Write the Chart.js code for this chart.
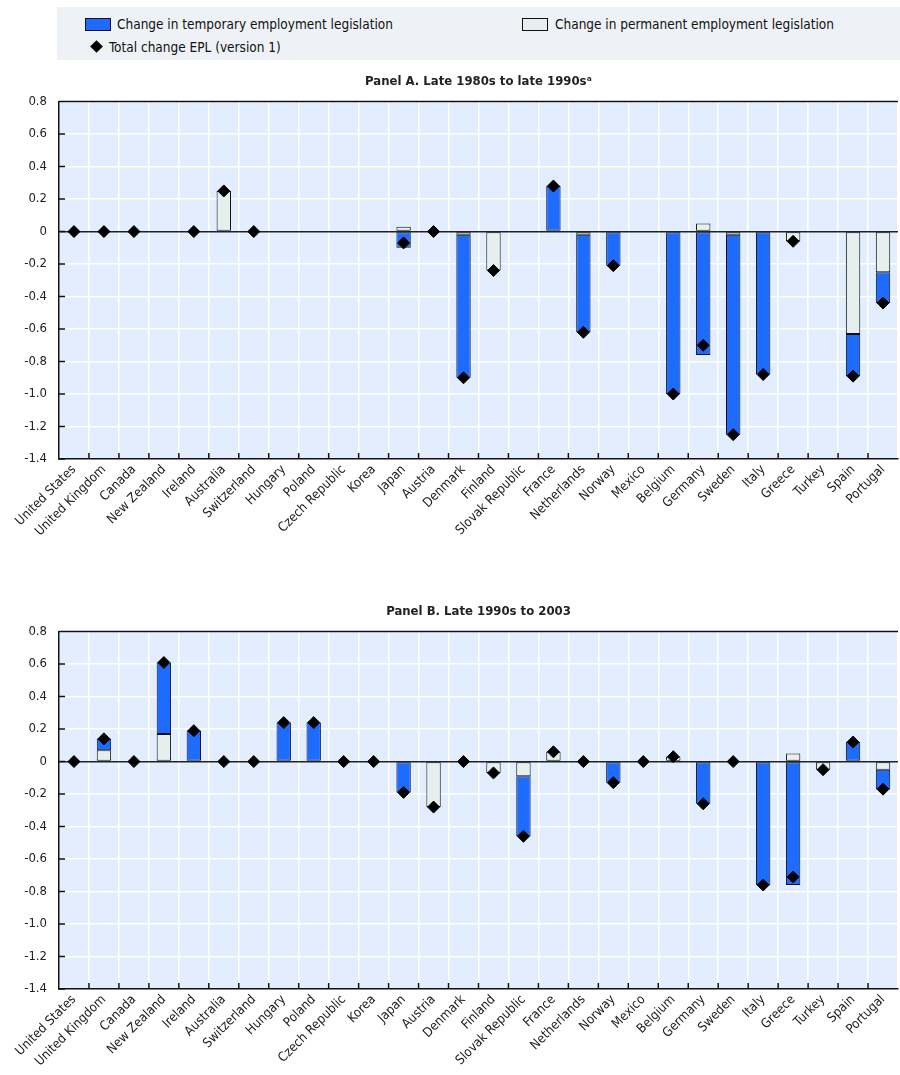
<!DOCTYPE html>
<html>
<head>
<meta charset="utf-8">
<script src="https://cdn.jsdelivr.net/npm/chart.js@4.4.1/dist/chart.umd.min.js"></script>
<style>
    body {
        margin: 0;
        width: 900px;
        height: 1075px;
        overflow: hidden;
        background: #fff;
        position: relative;
        font-family: 'Liberation Sans Narrow', 'DejaVu Sans Condensed', 'Arial Narrow', sans-serif;
        color: #111;
    }
    .legend {
        position: absolute;
        left: 57px;
        top: 7px;
        width: 843px;
        height: 53px;
        background: #eef1f5;
    }
    .legend-item {
        position: absolute;
        font-size: 13.5px;
        line-height: 16px;
        white-space: nowrap;
    }
    .swatch {
        position: absolute;
        width: 26px;
        height: 13px;
        box-sizing: border-box;
        border: 1px solid #111;
    }
    .diamond {
        position: absolute;
        width: 9px;
        height: 9px;
        background: #000;
        transform: rotate(45deg);
    }
    .panel {
        position: absolute;
        left: 0;
        width: 905px;
        height: 499px;
    }
</style>
</head>
<body>

<div class="legend">
    <div class="swatch" style="left:28px; top:11px; background:#1e6cff;"></div>
    <div class="legend-item" style="left:60px; top:9px;">Change in temporary employment legislation</div>
    <div class="swatch" style="left:465px; top:11px; background:#e6efee;"></div>
    <div class="legend-item" style="left:498px; top:9px;">Change in permanent employment legislation</div>
    <div class="diamond" style="left:35px; top:35px;"></div>
    <div class="legend-item" style="left:52px; top:32px;">Total change EPL (version 1)</div>
</div>

<div class="panel" style="top:70px;"><canvas id="panelA"></canvas></div>
<div class="panel" style="top:600px;"><canvas id="panelB"></canvas></div>

<script>
// Countries, same order in both panels
const countries = ['United States', 'United Kingdom', 'Canada', 'New Zealand', 'Ireland', 'Australia',
    'Switzerland', 'Hungary', 'Poland', 'Czech Republic', 'Korea', 'Japan', 'Austria', 'Denmark',
    'Finland', 'Slovak Republic', 'France', 'Netherlands', 'Norway', 'Mexico', 'Belgium', 'Germany',
    'Sweden', 'Italy', 'Greece', 'Turkey', 'Spain', 'Portugal'];

// Panel A. Late 1980s to late 1990s
const tempA = [null, null, null, null, null, null, null, null, null, null, null, -0.10, null, -0.88,
    null, null, 0.28, -0.60, -0.21, null, -1.00, -0.76, -1.23, -0.88, null, null, -0.26, -0.19];
const permA = [null, null, null, null, null, 0.25, null, null, null, null, null, 0.03, null, -0.02,
    -0.24, null, null, -0.02, null, null, null, 0.05, -0.02, null, -0.06, null, -0.63, -0.25];
const totalA = [0, 0, 0, null, 0, 0.25, 0, null, null, null, null, -0.07, 0, -0.90,
    -0.24, null, 0.28, -0.62, -0.21, null, -1.00, -0.70, -1.25, -0.88, -0.06, null, -0.89, -0.44];

// Panel B. Late 1990s to 2003
const tempB = [null, 0.07, null, 0.44, 0.19, null, null, 0.24, 0.24, null, null, -0.19, null, null,
    null, -0.37, null, null, -0.13, null, null, -0.26, null, -0.76, -0.76, null, 0.12, -0.12];
const permB = [null, 0.07, null, 0.17, null, null, null, null, null, null, null, null, -0.28, null,
    -0.07, -0.09, 0.06, null, null, null, 0.03, null, null, null, 0.05, -0.05, null, -0.05];
const totalB = [0, 0.14, 0, 0.61, 0.19, 0, 0, 0.24, 0.24, 0, 0, -0.19, -0.28, 0,
    -0.07, -0.46, 0.06, 0, -0.13, 0, 0.03, -0.26, 0, -0.76, -0.71, -0.05, 0.12, -0.17];

const yMin = -1.4;
const yMax = 0.8;
const yStep = 0.2;

const BLUE = '#1e6cff';
const PALE = '#e6efee';
const FONT = "'Liberation Sans Narrow', 'DejaVu Sans Condensed', 'Arial Narrow', sans-serif";

Chart.defaults.font.family = FONT;
Chart.defaults.color = '#222';

// Plot background, top border and the little inside tick marks
const panelFrame = {
    id: 'panelFrame',
    beforeDraw(chart) {
        const { ctx, chartArea: a } = chart;
        ctx.save();
        ctx.fillStyle = '#e2eefd';
        ctx.fillRect(a.left, a.top, a.right - a.left, a.bottom - a.top);
        ctx.restore();
    },
    beforeDatasetsDraw(chart) {
        const { ctx, chartArea: a, scales } = chart;
        ctx.save();
        ctx.strokeStyle = '#111';
        ctx.lineWidth = 1.5;
        ctx.beginPath();
        ctx.moveTo(a.left, a.top);
        ctx.lineTo(a.right, a.top);
        // y ticks pointing into the plot
        scales.y.ticks.forEach(t => {
            const y = scales.y.getPixelForValue(t.value);
            ctx.moveTo(a.left, y);
            ctx.lineTo(a.left + 6, y);
        });
        // x ticks at category boundaries
        const n = chart.data.labels.length;
        for (let i = 1; i < n; i++) {
            const x = (scales.x.getPixelForValue(i - 1) + scales.x.getPixelForValue(i)) / 2;
            ctx.moveTo(x, a.bottom);
            ctx.lineTo(x, a.bottom - 6);
        }
        ctx.stroke();
        ctx.restore();
    }
};

function buildPanel(canvasId, title, temp, perm, total) {
    const ctx = document.getElementById(canvasId);
    return new Chart(ctx, {
        type: 'bar',
        data: {
            labels: countries,
            datasets: [
                {
                    label: 'Change in permanent employment legislation',
                    data: perm,
                    backgroundColor: PALE,
                    borderColor: '#111',
                    borderWidth: 1,
                    borderSkipped: false,
                    categoryPercentage: 1,
                    barPercentage: 0.48,
                    order: 1
                },
                {
                    label: 'Change in temporary employment legislation',
                    data: temp,
                    backgroundColor: BLUE,
                    borderColor: '#111',
                    borderWidth: 1,
                    borderSkipped: false,
                    categoryPercentage: 1,
                    barPercentage: 0.48,
                    order: 1
                },
                {
                    type: 'line',
                    label: 'Total change EPL (version 1)',
                    data: total,
                    showLine: false,
                    pointStyle: 'rectRot',
                    pointRadius: 6,
                    pointBackgroundColor: '#000',
                    pointBorderColor: '#000',
                    pointBorderWidth: 1,
                    order: 0
                }
            ]
        },
        options: {
            responsive: true,
            maintainAspectRatio: false,
            animation: false,
            layout: {
                padding: { left: 0, right: 0, top: 0, bottom: 0 }
            },
            scales: {
                x: {
                    stacked: true,
                    grid: {
                        color: '#ffffff',
                        lineWidth: 1.5,
                        offset: true,
                        drawTicks: false
                    },
                    border: { color: '#111', width: 1.5 },
                    ticks: {
                        autoSkip: false,
                        minRotation: 45,
                        maxRotation: 45,
                        padding: 3,
                        font: { size: 13 },
                        color: '#222'
                    },
                    afterFit(scale) {
                        scale.height = 110;
                    }
                },
                y: {
                    stacked: true,
                    min: yMin,
                    max: yMax,
                    grid: {
                        color: ctx => (Math.abs(ctx.tick.value) < 1e-9 ? '#222' : '#ffffff'),
                        lineWidth: 1.5,
                        drawTicks: false
                    },
                    border: { color: '#111', width: 1.5 },
                    ticks: {
                        stepSize: yStep,
                        padding: 12,
                        font: { size: 13 },
                        color: '#222',
                        callback: value => {
                            const v = Math.round(value * 10) / 10;
                            return v === 0 ? '0' : v.toFixed(1);
                        }
                    },
                    afterFit(scale) {
                        scale.width = 59;
                    }
                }
            },
            plugins: {
                legend: { display: false },
                tooltip: { enabled: false },
                title: {
                    display: true,
                    fullSize: false,
                    text: title,
                    color: '#222',
                    font: { size: 13, weight: 'bold' },
                    padding: { top: 4, bottom: 12 }
                }
            }
        },
        plugins: [panelFrame]
    });
}

buildPanel('panelA', 'Panel A. Late 1980s to late 1990s\u1d43', tempA, permA, totalA);
buildPanel('panelB', 'Panel B. Late 1990s to 2003', tempB, permB, totalB);
</script>
</body>
</html>
